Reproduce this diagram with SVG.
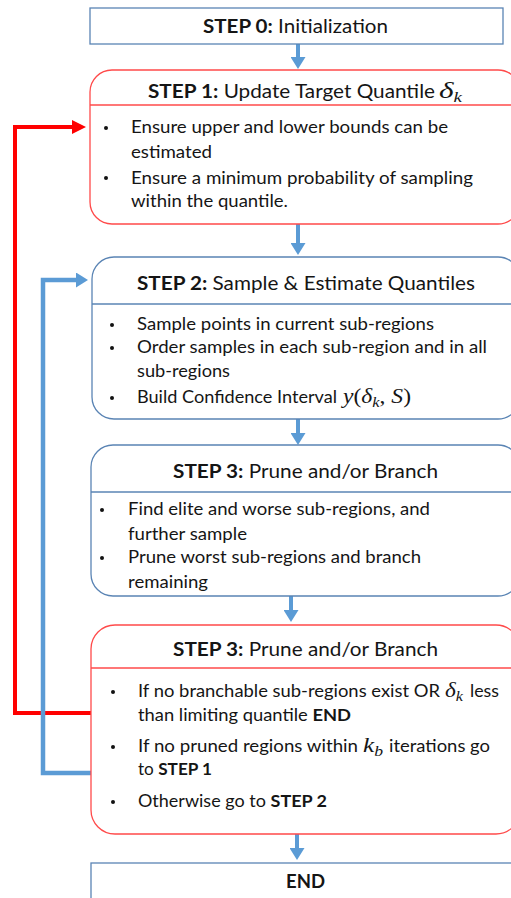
<svg xmlns="http://www.w3.org/2000/svg" width="511" height="898" viewBox="0 0 511 898">
  <style>
    text { font-family: Lato, "Open Sans", "Liberation Sans", sans-serif; fill: #151515; }
    .title { font-size: 19.5px; }
    .body { font-size: 17px; }
    .b { font-weight: bold; }
    .math { font-family: "Liberation Serif", "DejaVu Serif", serif; font-style: italic; font-size: 23px; }
    .mathS { font-size: 20px; }
    .up { font-family: "Liberation Serif", "DejaVu Serif", serif; font-style: normal; }
    .sub { font-size: 14px; }
    .boxB { fill: #ffffff; stroke: #5a84b4; stroke-width: 1.3; }
    .boxR { fill: #ffffff; stroke: #ff4a4a; stroke-width: 1.3; }
    .divB { stroke: #5a84b4; stroke-width: 1.3; }
    .divR { stroke: #ff4a4a; stroke-width: 1.3; }
    .flow { stroke: #5b9bd5; stroke-width: 4; fill: none; }
    .loopR { stroke: #ff0000; stroke-width: 4; fill: none; }
    .loopB { stroke: #5b9bd5; stroke-width: 4.5; fill: none; }
    .dot { fill: #111; }
  </style>
  <defs>
    <marker id="headB" markerUnits="userSpaceOnUse" viewBox="0 0 12 15" refX="0" refY="7.5" markerWidth="12" markerHeight="15" orient="auto">
      <path d="M0,0 L12,7.5 L0,15 z" fill="#5b9bd5"/>
    </marker>
    <marker id="headR" markerUnits="userSpaceOnUse" viewBox="0 0 14 14" refX="0" refY="7" markerWidth="14" markerHeight="14" orient="auto">
      <path d="M0,0 L14,7 L0,14 z" fill="#ff0000"/>
    </marker>
  </defs>

  <!-- connectors -->
  <g id="connectors">
    <line class="flow" x1="298" y1="44" x2="298" y2="57" marker-end="url(#headB)"/>
    <line class="flow" x1="298" y1="224" x2="298" y2="243" marker-end="url(#headB)"/>
    <line class="flow" x1="298" y1="419" x2="298" y2="433" marker-end="url(#headB)"/>
    <line class="flow" x1="291" y1="596" x2="291" y2="610" marker-end="url(#headB)"/>
    <line class="flow" x1="297" y1="834" x2="297" y2="848" marker-end="url(#headB)"/>
    <!-- loop back to step 1 -->
    <path class="loopR" d="M91,713 H15 V127 H72" marker-end="url(#headR)"/>
    <!-- loop back to step 2 -->
    <path class="loopB" d="M92,773 H43 V280 H76" marker-end="url(#headB)"/>
  </g>

  <!-- STEP 0 -->
  <g id="step0">
    <rect class="boxB" x="90" y="8" width="413" height="36" stroke="#6d8fbf"/>
    <text class="title" x="203" y="33" textLength="185" lengthAdjust="spacingAndGlyphs"><tspan class="b">STEP 0:</tspan> Initialization</text>
  </g>

  <!-- STEP 1 -->
  <g id="step1">
    <rect class="boxR" x="90" y="70" width="430" height="154" rx="22" ry="22"/>
    <line class="divR" x1="90" y1="105" x2="520" y2="105"/>
    <text class="title" x="148" y="98" textLength="287" lengthAdjust="spacingAndGlyphs"><tspan class="b">STEP 1:</tspan> Update Target Quantile</text>
    <text class="math" x="439" y="98" textLength="23" lengthAdjust="spacingAndGlyphs">δ<tspan class="sub" dy="4">k</tspan></text>
    <circle class="dot" cx="106" cy="128" r="2"/>
    <circle class="dot" cx="106" cy="178" r="2"/>
    <text class="body" x="131" y="133" textLength="317" lengthAdjust="spacingAndGlyphs">Ensure upper and lower bounds can be</text>
    <text class="body" x="131" y="158" textLength="81" lengthAdjust="spacingAndGlyphs">estimated</text>
    <text class="body" x="131" y="184" textLength="342" lengthAdjust="spacingAndGlyphs">Ensure a minimum probability of sampling</text>
    <text class="body" x="131" y="207" textLength="157" lengthAdjust="spacingAndGlyphs">within the quantile.</text>
  </g>

  <!-- STEP 2 -->
  <g id="step2">
    <rect class="boxB" x="92" y="257" width="428" height="162" rx="22" ry="22"/>
    <line class="divB" x1="92" y1="304" x2="520" y2="304"/>
    <text class="title" x="137" y="290" textLength="338" lengthAdjust="spacingAndGlyphs"><tspan class="b">STEP 2:</tspan> Sample &amp; Estimate Quantiles</text>
    <circle class="dot" cx="112" cy="325" r="2"/>
    <circle class="dot" cx="112" cy="348" r="2"/>
    <circle class="dot" cx="112" cy="398" r="2"/>
    <text class="body" x="137" y="330" textLength="297" lengthAdjust="spacingAndGlyphs">Sample points in current sub-regions</text>
    <text class="body" x="137" y="353" textLength="350" lengthAdjust="spacingAndGlyphs">Order samples in each sub-region and in all</text>
    <text class="body" x="137" y="377" textLength="93" lengthAdjust="spacingAndGlyphs">sub-regions</text>
    <text class="body" x="137" y="403" textLength="200" lengthAdjust="spacingAndGlyphs">Build Confidence Interval</text>
    <text class="math mathS" x="343" y="403" textLength="68" lengthAdjust="spacingAndGlyphs">y<tspan class="up">(</tspan>δ<tspan class="sub" dy="4">k</tspan><tspan class="up" dy="-4">, </tspan>S<tspan class="up">)</tspan></text>
  </g>

  <!-- STEP 3: prune and/or branch -->
  <g id="step3">
    <rect class="boxB" x="91" y="445" width="429" height="151" rx="22" ry="22"/>
    <line class="divB" x1="91" y1="492" x2="520" y2="492"/>
    <text class="title" x="173" y="478" textLength="265" lengthAdjust="spacingAndGlyphs"><tspan class="b">STEP 3:</tspan> Prune and/or Branch</text>
    <circle class="dot" cx="102" cy="510" r="2"/>
    <circle class="dot" cx="102" cy="558" r="2"/>
    <text class="body" x="128" y="515" textLength="302" lengthAdjust="spacingAndGlyphs">Find elite and worse sub-regions, and</text>
    <text class="body" x="128" y="540" textLength="119" lengthAdjust="spacingAndGlyphs">further sample</text>
    <text class="body" x="128" y="563" textLength="293" lengthAdjust="spacingAndGlyphs">Prune worst sub-regions and branch</text>
    <text class="body" x="128" y="588" textLength="80" lengthAdjust="spacingAndGlyphs">remaining</text>
  </g>

  <!-- STEP 3: termination checks -->
  <g id="step4">
    <rect class="boxR" x="91" y="625" width="429" height="209" rx="24" ry="24"/>
    <line class="divR" x1="91" y1="668" x2="520" y2="668"/>
    <text class="title" x="173" y="656" textLength="265" lengthAdjust="spacingAndGlyphs"><tspan class="b">STEP 3:</tspan> Prune and/or Branch</text>
    <circle class="dot" cx="113" cy="692" r="2"/>
    <circle class="dot" cx="113" cy="747" r="2"/>
    <circle class="dot" cx="113" cy="802" r="2"/>
    <text class="body" x="138" y="697" textLength="302" lengthAdjust="spacingAndGlyphs">If no branchable sub-regions exist OR</text>
    <text class="math mathS" x="445" y="697" textLength="18" lengthAdjust="spacingAndGlyphs">δ<tspan class="sub" dy="4">k</tspan></text>
    <text class="body" x="470" y="697" textLength="29" lengthAdjust="spacingAndGlyphs">less</text>
    <text class="body" x="138" y="721" textLength="213" lengthAdjust="spacingAndGlyphs">than limiting quantile <tspan class="b">END</tspan></text>
    <text class="body" x="138" y="752" textLength="220" lengthAdjust="spacingAndGlyphs">If no pruned regions within</text>
    <text class="math mathS" x="363" y="752" textLength="20" lengthAdjust="spacingAndGlyphs">k<tspan class="sub" dy="4">b</tspan></text>
    <text class="body" x="389" y="752" textLength="101" lengthAdjust="spacingAndGlyphs">iterations go</text>
    <text class="body" x="138" y="775" textLength="74" lengthAdjust="spacingAndGlyphs">to <tspan class="b">STEP 1</tspan></text>
    <text class="body" x="138" y="807" textLength="189" lengthAdjust="spacingAndGlyphs">Otherwise go to <tspan class="b">STEP 2</tspan></text>
  </g>

  <!-- END -->
  <g id="end">
    <rect class="boxB" x="91" y="863" width="440" height="60"/>
    <text class="title b" x="286" y="888" textLength="39" lengthAdjust="spacingAndGlyphs">END</text>
  </g>
</svg>
